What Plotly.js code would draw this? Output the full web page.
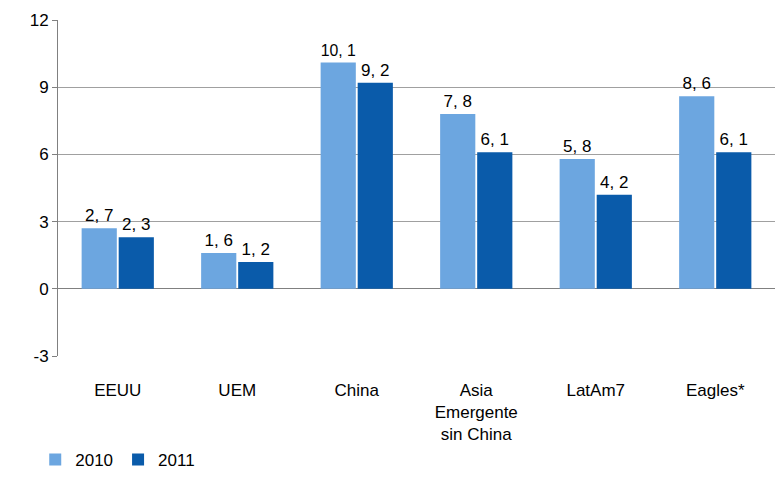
<!DOCTYPE html>
<html>
<head>
<meta charset="utf-8">
<script src="https://cdn.plot.ly/plotly-3.0.1.min.js"></script>
<style>body{margin:0}#chart{width:783px;height:478px}</style>
</head>
<body>
<div id="chart"></div>
<script>
const categories = ['EEUU', 'UEM', 'China', 'Asia<br>Emergente<br>sin China', 'LatAm7', 'Eagles*'];
const values2010 = [2.7, 1.6, 10.1, 7.8, 5.8, 8.6];
const values2011 = [2.3, 1.2, 9.2, 6.1, 4.2, 6.1];
const yTicks = [-3, 0, 3, 6, 9, 12];

const fmt = v => v.toFixed(1).replace('.', ', ');
const font = {family: 'Liberation Sans, Arial, sans-serif', size: 17, color: '#000'};

const data = [
    {x: categories, y: values2010, name: '2010', type: 'bar', marker: {color: '#6CA6E0'},
     text: values2010.map(fmt), textposition: 'outside', cliponaxis: false, textfont: font},
    {x: categories, y: values2011, name: '2011', type: 'bar', marker: {color: '#0A5BAA'},
     text: values2011.map(fmt), textposition: 'outside', cliponaxis: false, textfont: font}
];

const layout = {
    width: 783, height: 478,
    margin: {l: 58, r: 8, t: 20, b: 122},
    font: font,
    barmode: 'group',
    bargap: 0.38,
    bargroupgap: 0.05,
    showlegend: true,
    legend: {orientation: 'h', x: 0.045, xref: 'container', y: 0, yref: 'container', yanchor: 'bottom',
             font: font, itemwidth: 30},
    xaxis: {showline: false, ticks: '', tickfont: font, ticklabelstandoff: 22, automargin: false},
    yaxis: {range: [-3, 12], tickvals: yTicks, ticktext: yTicks.map(String),
            showgrid: true, gridcolor: '#a0a0a0', zeroline: true, zerolinecolor: '#808080',
            showline: true, linecolor: '#808080', ticks: 'outside', ticklen: 5, tickcolor: '#808080',
            tickfont: font, automargin: false},
    plot_bgcolor: '#fff', paper_bgcolor: '#fff'
};

Plotly.newPlot('chart', data, layout, {displayModeBar: false});
</script>
</body>
</html>
